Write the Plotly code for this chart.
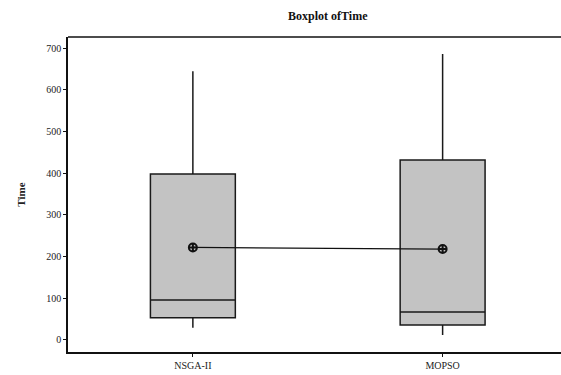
import plotly.graph_objects as go

categories = ["NSGA-II", "MOPSO"]
lower_whisker = [29, 12]
q1 = [53, 36]
median = [96, 67]
q3 = [398, 432]
upper_whisker = [645, 686]
means = [222, 218]

fig = go.Figure()
fig.add_trace(go.Box(
    x=categories, q1=q1, median=median, q3=q3,
    lowerfence=lower_whisker, upperfence=upper_whisker,
    fillcolor="#c3c3c3", line=dict(color="#1a1a1a", width=1.5),
    width=0.34, whiskerwidth=0, boxpoints=False, hoverinfo="skip",
    showlegend=False,
))
fig.add_trace(go.Scatter(
    x=categories, y=means, mode="lines+markers",
    line=dict(color="#111111", width=1.3),
    marker=dict(symbol="circle-cross-open", size=8, color="#111111",
                line=dict(width=2, color="#111111")),
    showlegend=False, hoverinfo="skip",
))

# top frame line of the plotting area
fig.add_shape(type="line", xref="paper", yref="paper", x0=0, x1=1, y0=1, y1=1,
              line=dict(color="#111111", width=1.5))

font_family = "Liberation Serif"
fig.update_layout(
    width=561, height=375,
    margin=dict(l=68, r=0, t=37, b=23),
    paper_bgcolor="white", plot_bgcolor="white",
    font=dict(family=font_family, size=10, color="#222222"),
    title=dict(text="<b>Boxplot ofTime</b>", x=0.527, xref="paper", xanchor="center",
               y=0.957, yanchor="middle", font=dict(family=font_family, size=12, color="#111111")),
    xaxis=dict(range=[-0.5, 1.474], showline=True, linecolor="#111111", linewidth=1.5,
               mirror=False, ticks="outside", ticklen=3, tickcolor="#111111",
               showgrid=False, zeroline=False, tickfont=dict(size=10)),
    yaxis=dict(range=[-29, 727], showline=True, linecolor="#111111", linewidth=1.5,
               mirror=False, ticks="outside", ticklen=3, tickcolor="#111111",
               tickvals=[0, 100, 200, 300, 400, 500, 600, 700],
               showgrid=False, zeroline=False, tickfont=dict(size=10),
               title=dict(text="<b>Time</b>", font=dict(size=11), standoff=18)),
)

fig.write_html(
    "out.html", config={"displayModeBar": False},
    post_script=("document.documentElement.style.overflow='hidden';"
                 "document.body.style.margin='0';document.body.style.overflow='hidden';"),
)
